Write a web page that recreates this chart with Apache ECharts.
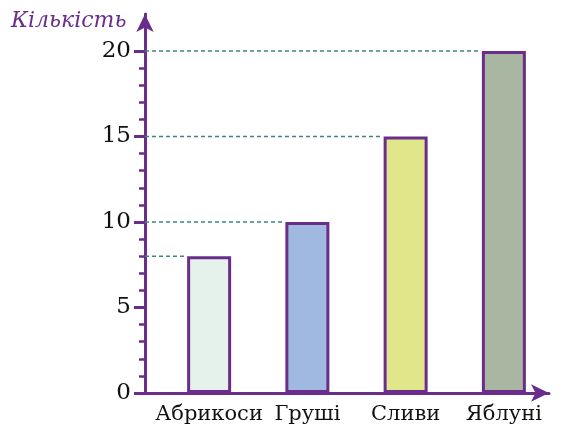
<!DOCTYPE html>
<html>
<head>
<meta charset="utf-8">
<script src="https://cdn.jsdelivr.net/npm/echarts@6/dist/echarts.min.js"></script>
<style>
  html, body { margin: 0; padding: 0; background: #fff; }
  #chart { width: 563px; height: 427px; }
</style>
</head>
<body>
<div id="chart"></div>
<script>
const categories = ['Абрикоси', 'Груші', 'Сливи', 'Яблуні'];
const counts = [8, 10, 15, 20];
const barColors = ['#e5f2ec', '#9fb9e1', '#dfe78a', '#a9b6a1'];
const yTicks = [0, 5, 10, 15, 20];

const purple = '#6a2d8b';
const dashColor = '#3a8780';
const BAR_W = 44;
const AXIS_SHIFT = 15;

const chart = echarts.init(document.getElementById('chart'));

chart.setOption({
  animation: false,
  title: {
    text: 'Кількість',
    left: 6,
    top: 5,
    textStyle: {
      fontFamily: 'DejaVu Serif',
      fontStyle: 'italic',
      fontWeight: 'normal',
      fontSize: 22,
      color: purple,
    },
  },
  grid: [
    { left: 160, right: 10, top: 51, bottom: 34 },
    { left: 145, right: 14, top: 14, bottom: 34 },
  ],
  xAxis: [
    {
      type: 'category',
      gridIndex: 0,
      data: categories,
      axisLine: { show: false },
      axisTick: { show: false },
      axisLabel: {
        interval: 0,
        hideOverlap: false,
        margin: 11,
        fontFamily: 'DejaVu Serif',
        fontSize: 21,
        color: '#111',
      },
    },
    {
      type: 'value',
      gridIndex: 1,
      min: 0,
      max: 1,
      axisLine: {
        show: true,
        symbol: ['none', 'arrow'],
        symbolSize: [13, 18],
        lineStyle: { color: purple, width: 3 },
      },
      axisTick: { show: false },
      axisLabel: { show: false },
      splitLine: { show: false },
    },
  ],
  yAxis: [
    {
      type: 'value',
      gridIndex: 0,
      min: yTicks[0],
      max: yTicks[yTicks.length - 1],
      interval: 5,
      offset: AXIS_SHIFT,
      axisLine: { show: false },
      axisTick: {
        show: true,
        length: 11,
        lineStyle: { color: purple, width: 3 },
      },
      minorTick: {
        show: true,
        splitNumber: 5,
        length: 6,
        lineStyle: { color: purple, width: 2.5 },
      },
      axisLabel: {
        margin: 14,
        fontFamily: 'DejaVu Serif',
        fontSize: 23,
        color: '#111',
      },
      splitLine: { show: false },
    },
    {
      type: 'value',
      gridIndex: 1,
      min: 0,
      max: 1,
      axisLine: {
        show: true,
        symbol: ['none', 'arrow'],
        symbolSize: [13, 18],
        lineStyle: { color: purple, width: 3 },
      },
      axisTick: { show: false },
      axisLabel: { show: false },
      splitLine: { show: false },
    },
  ],
  series: [
    {
      type: 'custom',
      xAxisIndex: 0,
      yAxisIndex: 0,
      z: 1,
      data: counts.map((v, i) => [i, v]),
      renderItem: (params, api) => {
        const p = api.coord([api.value(0), api.value(1)]);
        const x0 = params.coordSys.x - AXIS_SHIFT;
        const x1 = p[0] - BAR_W / 2 - 1.5;
        return {
          type: 'line',
          shape: { x1: x0, y1: p[1], x2: x1, y2: p[1] },
          style: { stroke: dashColor, lineWidth: 1.5, lineDash: [4, 3] },
        };
      },
    },
    {
      type: 'bar',
      xAxisIndex: 0,
      yAxisIndex: 0,
      z: 2,
      barWidth: BAR_W,
      data: counts.map((v, i) => ({
        value: v,
        itemStyle: { color: barColors[i] },
      })),
      itemStyle: { borderColor: purple, borderWidth: 3 },
    },
  ],
});
</script>
</body>
</html>
